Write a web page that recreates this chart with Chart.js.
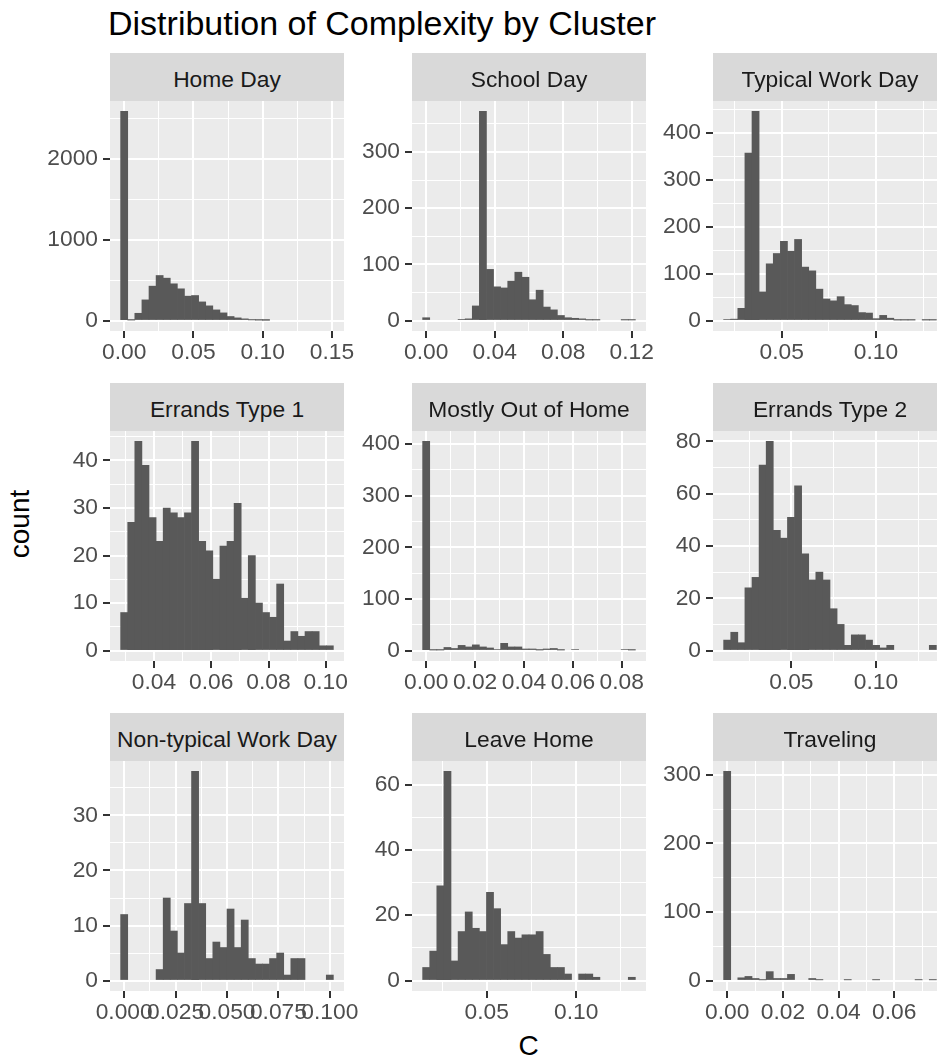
<!DOCTYPE html>
<html>
<head>
<meta charset="utf-8">
<title>Distribution of Complexity by Cluster</title>
<script src="https://cdn.jsdelivr.net/npm/chart.js@4.4.1/dist/chart.umd.min.js"></script>
<style>
  body {
    margin: 0;
    width: 937px;
    height: 1061px;
    overflow: hidden;
    position: relative;
    background: #ffffff;
    font-family: "Liberation Sans", Arial, sans-serif;
  }
  canvas { position: absolute; }
  .strip {
    position: absolute;
    width: 234px;
    height: 48px;
    box-sizing: border-box;
    padding-top: 4px;
    background: #d9d9d9;
    color: #1a1a1a;
    font-size: 22.8px;
    display: flex;
    align-items: center;
    justify-content: center;
    white-space: nowrap;
    z-index: 2;
  }
  #title {
    position: absolute; left: 108px; top: 6px;
    font-size: 34px; line-height: 1; color: #000000; white-space: nowrap;
  }
  #ylab {
    position: absolute; left: 20px; top: 524px;
    font-size: 28px; line-height: 1; color: #000000;
    transform: translate(-50%, -50%) rotate(-90deg);
  }
  #xlab {
    position: absolute; left: 528.5px; top: 1032px;
    font-size: 28px; line-height: 1; color: #000000;
    transform: translateX(-50%);
  }
</style>
</head>
<body>
<div id="title">Distribution of Complexity by Cluster</div>
<div id="ylab">count</div>
<div id="xlab">C</div>
<script>
// Facet names, in facet_wrap order
const clusters = [
    "Home Day", "School Day", "Typical Work Day",
    "Errands Type 1", "Mostly Out of Home", "Errands Type 2",
    "Non-typical Work Day", "Leave Home", "Traveling",
];

// 30 bins per cluster: centre of the first bin and bin width
const binStart = [0, 0, 0.0211, 0.0296, 0, 0.0121, 0, 0.0161, 0];
const binWidth = [0.00512, 0.00414, 0.00376, 0.002476, 0.0029, 0.00419, 0.003448, 0.003967, 0.002546];

// Counts per bin
const homeDay = [2590, 6, 90, 256, 426, 558, 525, 455, 393, 302, 310, 231, 182, 132, 95, 50, 33, 21, 8, 5, 3, 0, 0, 0, 0, 0, 0, 0, 0, 0];
const schoolDay = [5, 0, 0, 0, 0, 2, 3, 26, 372, 91, 60, 58, 70, 86, 77, 37, 54, 24, 19, 9, 5, 4, 3, 1, 1, 0, 0, 0, 1, 1];
const typicalWorkDay = [2, 3, 26, 357, 446, 61, 121, 143, 169, 148, 173, 114, 106, 67, 46, 42, 51, 34, 32, 17, 16, 4, 11, 5, 1, 1, 1, 0, 1, 1];
const errandsType1 = [8, 27, 44, 39, 28, 23, 30, 29, 28, 29, 44, 23, 21, 15, 22, 23, 31, 11, 20, 10, 8, 7, 14, 2, 4, 3, 4, 4, 1, 1];
const mostlyOut = [405, 1, 1, 6, 4, 10, 7, 11, 7, 5, 2, 14, 7, 7, 3, 3, 1, 3, 4, 1, 0, 2, 0, 0, 0, 0, 0, 0, 2, 1];
const errandsType2 = [4, 7, 3, 24, 28, 71, 80, 46, 43, 51, 63, 37, 27, 30, 27, 16, 10, 2, 6, 6, 4, 2, 1, 2, 0, 0, 0, 0, 0, 2];
const nonTypicalWorkDay = [12, 0, 0, 0, 0, 2, 15, 9, 5, 14, 38, 14, 4, 7, 6, 13, 6, 11, 4, 3, 3, 4, 5, 1, 4, 4, 0, 0, 0, 1];
const leaveHome = [4, 9, 29, 64, 6, 15, 21, 16, 15, 27, 22, 11, 15, 13, 14, 14, 15, 8, 4, 4, 2, 0, 2, 2, 1, 0, 0, 0, 0, 1];
const traveling = [305, 0, 4, 6, 3, 1, 13, 3, 3, 9, 0, 0, 3, 1, 0, 0, 0, 1, 0, 0, 0, 1, 0, 0, 0, 0, 0, 1, 0, 1];

const counts = [homeDay, schoolDay, typicalWorkDay, errandsType1, mostlyOut, errandsType2, nonTypicalWorkDay, leaveHome, traveling];

// Major tick labels per facet
const xTickLabels = [
    ["0.00", "0.05", "0.10", "0.15"],
    ["0.00", "0.04", "0.08", "0.12"],
    ["0.05", "0.10"],
    ["0.04", "0.06", "0.08", "0.10"],
    ["0.00", "0.02", "0.04", "0.06", "0.08"],
    ["0.05", "0.10"],
    ["0.000", "0.025", "0.050", "0.075", "0.100"],
    ["0.05", "0.10"],
    ["0.00", "0.02", "0.04", "0.06"],
];
const yTickLabels = [
    ["0", "1000", "2000"],
    ["0", "100", "200", "300"],
    ["0", "100", "200", "300", "400"],
    ["0", "10", "20", "30", "40"],
    ["0", "100", "200", "300", "400"],
    ["0", "20", "40", "60", "80"],
    ["0", "10", "20", "30"],
    ["0", "20", "40", "60"],
    ["0", "100", "200", "300"],
];

// Layout (pixels)
const panelLeft = [110, 412, 713];
const panelTop = [101, 431, 761];
const panelW = 234;
const panelH = 230;
const stripH = 48;
const axisW = 70;
const axisH = 45;
const padTop = 25;
const padRight = 40;

const fontFamily = '"Liberation Sans", Arial, sans-serif';
const tickFont = { family: fontFamily, size: 22.8 };

// Grey panel background, like theme_grey
const panelBg = {
    id: "panelBg",
    beforeDraw(chart) {
        const { ctx, chartArea: a } = chart;
        ctx.save();
        ctx.fillStyle = "#ebebeb";
        ctx.fillRect(a.left, a.top, a.right - a.left, a.bottom - a.top);
        ctx.restore();
    },
};

// Major ticks plus minor ones half way between them, kept inside [lo, hi]
function buildTicks(labels, lo, hi) {
    const majors = labels.map(parseFloat);
    const step = majors.length > 1 ? majors[1] - majors[0] : 1;
    const ticks = [];
    majors.forEach((m, i) => {
        ticks.push({ value: m - step / 2, mj: false });
        ticks.push({ value: m, mj: true, lbl: labels[i] });
    });
    ticks.push({ value: majors[majors.length - 1] + step / 2, mj: false });
    return ticks.filter((t) => t.value >= lo - 1e-9 && t.value <= hi + 1e-9);
}

function axisOptions(labels, lo, hi, isX) {
    return {
        type: "linear",
        min: lo,
        max: hi,
        offset: false,
        border: { display: false },
        grid: {
            offset: false,
            color: "#ffffff",
            lineWidth: (c) => (c.tick && c.tick.mj ? 2 : 1),
            drawTicks: true,
            tickLength: 7,
            tickWidth: 2,
            tickColor: (c) => (c.tick && c.tick.mj ? "#333333" : "rgba(0,0,0,0)"),
        },
        ticks: {
            autoSkip: false,
            maxRotation: 0,
            minRotation: 0,
            padding: isX ? 1 : 5,
            color: "#4d4d4d",
            font: tickFont,
            callback: (value, i, ticks) => (ticks[i].mj ? ticks[i].lbl : ""),
        },
        afterBuildTicks: (scale) => {
            scale.ticks = buildTicks(labels, lo, hi);
        },
        afterFit: (scale) => {
            if (isX) {
                scale.height = axisH;
            } else {
                scale.width = axisW;
            }
        },
    };
}

clusters.forEach((name, p) => {
    const col = p % 3;
    const row = Math.floor(p / 3);
    const left = panelLeft[col];
    const top = panelTop[row];

    // Strip
    const strip = document.createElement("div");
    strip.className = "strip";
    strip.style.left = left + "px";
    strip.style.top = top - stripH + "px";
    strip.textContent = name;
    document.body.appendChild(strip);

    // Histogram bars at bin centres; empty bins are not drawn
    const w = binWidth[p];
    const data = counts[p].map((n, k) => ({ x: binStart[p] + k * w, y: n > 0 ? n : null }));

    // ggplot default expansion: 5% each side
    const xLow = binStart[p] - w / 2;
    const xHigh = binStart[p] + (counts[p].length - 0.5) * w;
    const xPad = (xHigh - xLow) * 0.05;
    const yMax = Math.max(...counts[p]);

    const canvas = document.createElement("canvas");
    canvas.width = axisW + panelW + padRight;
    canvas.height = padTop + panelH + axisH;
    canvas.style.left = left - axisW + "px";
    canvas.style.top = top - padTop + "px";
    document.body.appendChild(canvas);

    new Chart(canvas, {
        type: "bar",
        data: {
            datasets: [
                {
                    data: data,
                    backgroundColor: "#595959",
                    borderWidth: 0,
                    barPercentage: 1,
                    categoryPercentage: 1,
                },
            ],
        },
        options: {
            responsive: false,
            animation: false,
            layout: { padding: { top: padTop, right: padRight, left: 0, bottom: 0 } },
            plugins: {
                legend: { display: false },
                tooltip: { enabled: false },
            },
            scales: {
                x: axisOptions(xTickLabels[p], xLow - xPad, xHigh + xPad, true),
                y: axisOptions(yTickLabels[p], -0.05 * yMax, 1.05 * yMax, false),
            },
        },
        plugins: [panelBg],
    });
});
</script>
</body>
</html>
